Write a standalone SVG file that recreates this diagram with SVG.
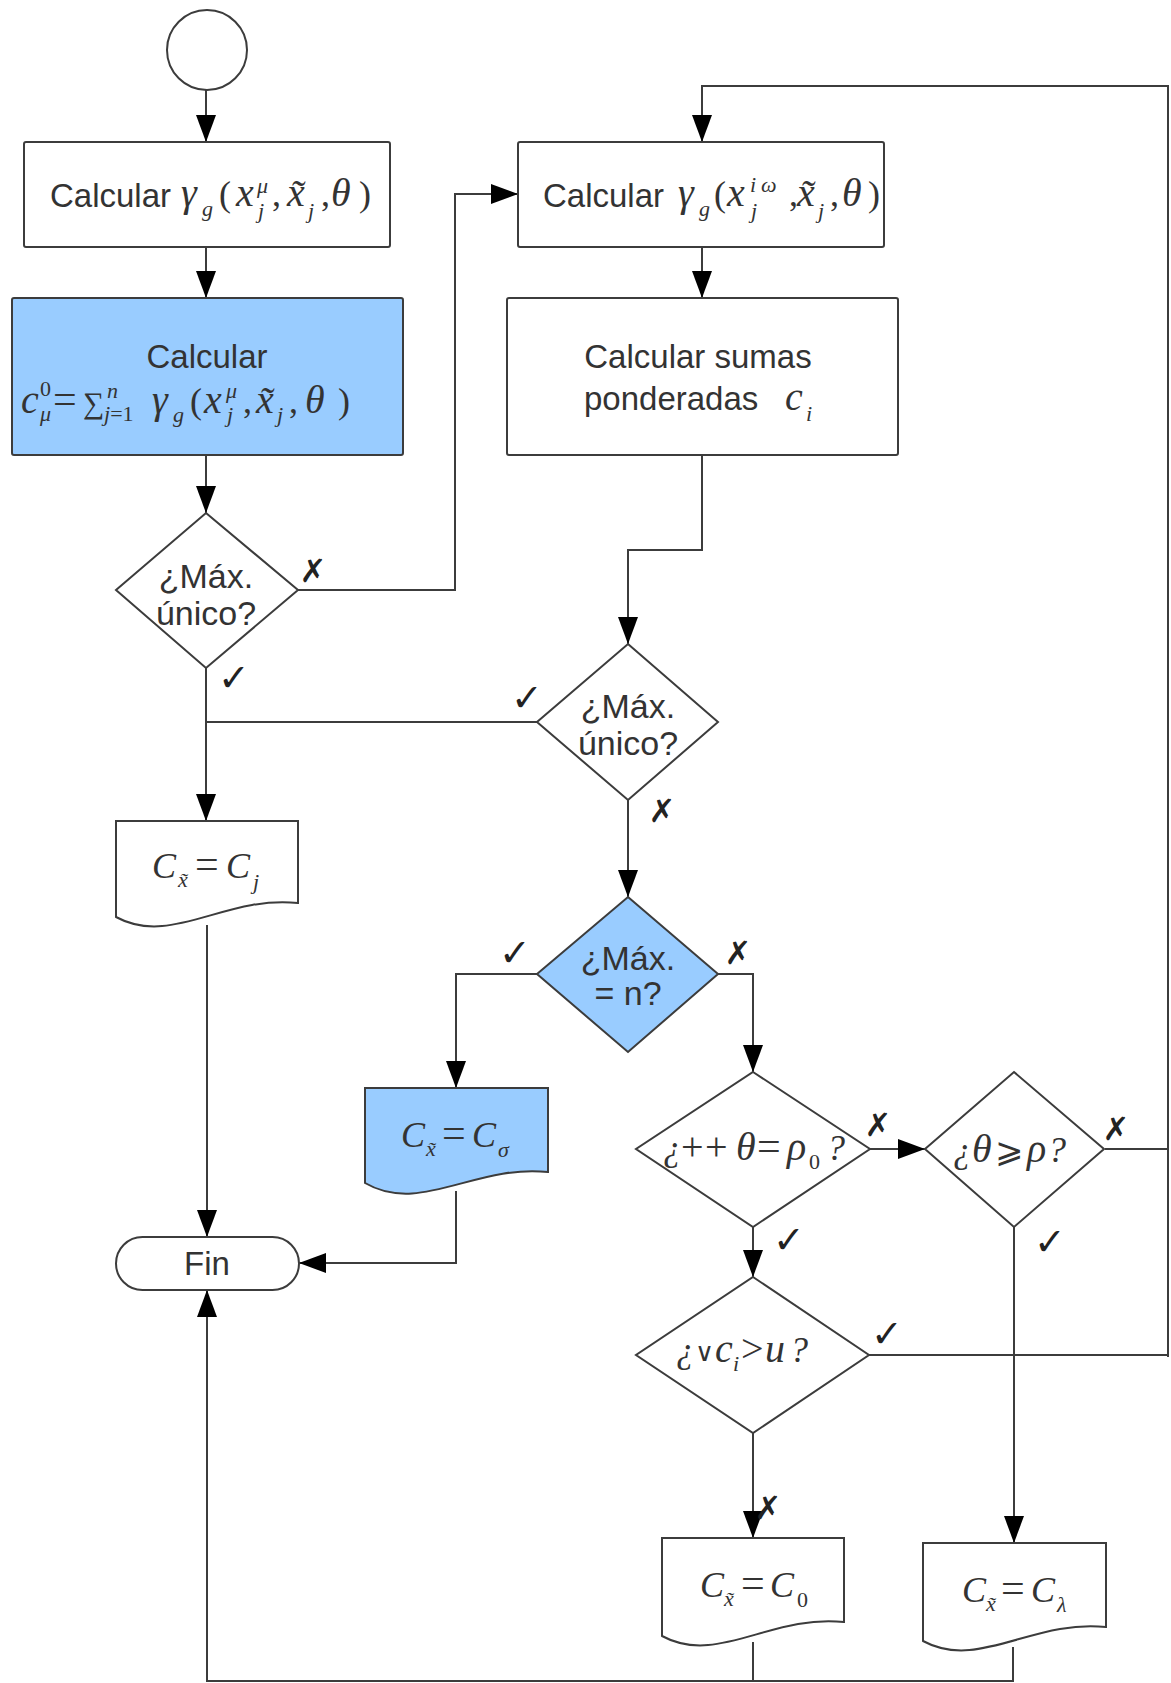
<svg xmlns="http://www.w3.org/2000/svg" width="1171" height="1683" viewBox="0 0 1171 1683">
<defs>
<marker id="arr" viewBox="0 0 27 20" refX="27" refY="10" markerWidth="27" markerHeight="20" markerUnits="userSpaceOnUse" orient="auto">
<path d="M0,0 L27,10 L0,20 z" fill="#000"/>
</marker>
<style>
.shape{fill:#fff;stroke:#3c3c3c;stroke-width:2}
.blue{fill:#99ccff}
.conn path{fill:none;stroke:#3c3c3c;stroke-width:2}
.arr{marker-end:url(#arr)}
.sans{font-family:"Liberation Sans","Arial",sans-serif;font-size:33px;fill:#333}
.dia{font-family:"Liberation Sans","Arial",sans-serif;font-size:34px;fill:#333;text-anchor:middle}
.m{font-family:"Liberation Serif","DejaVu Serif",serif;font-size:36px;font-style:italic;fill:#333}
.big{font-size:40px}
.n{font-style:normal}
.s{font-size:22px}
.eq{font-size:42px;font-style:normal}
.or{font-family:"DejaVu Sans",sans-serif;font-size:26px;font-style:normal}
.lab{font-family:"DejaVu Sans",sans-serif;font-size:32px;fill:#222;text-anchor:middle}
.ck{font-size:38px}
</style>
</defs>
<rect width="1171" height="1683" fill="#fff"/>

<g id="connectors" class="conn">
<path class="arr" d="M206,90 V142"/>
<path class="arr" d="M206,247 V298"/>
<path class="arr" d="M206,455 V513"/>
<path class="arr" d="M298,590 H455 V194 H518"/>
<path class="arr" d="M206,668 V821"/>
<path d="M537,722 H206"/>
<path class="arr" d="M1168,1357 V86 H702 V142"/>
<path d="M1105,1149 H1168"/>
<path d="M869,1355 H1168"/>
<path class="arr" d="M702,247 V298"/>
<path class="arr" d="M702,455 V550 H628 V644"/>
<path class="arr" d="M628,800 V897"/>
<path class="arr" d="M537,974 H456 V1088"/>
<path class="arr" d="M718,974 H753 V1072"/>
<path class="arr" d="M870,1149 H925"/>
<path class="arr" d="M753,1227 V1277"/>
<path class="arr" d="M1014,1227 V1543"/>
<path class="arr" d="M753,1433 V1538"/>
<path class="arr" d="M207,925 V1237"/>
<path class="arr" d="M456,1191 V1263 H299"/>
<path d="M753,1642 V1681"/>
<path class="arr" d="M1013,1647 V1681 H207 V1290"/>
</g>

<g id="start"><circle class="shape" cx="207" cy="50" r="40"/></g>

<g id="box1">
<rect class="shape" x="24" y="142" width="366" height="105" rx="2"/>
<text class="sans" x="50" y="207">Calcular</text>
<text class="m"><tspan class="big" x="181" y="206">γ</tspan><tspan class="s" x="202" y="216">g</tspan><tspan class="n" x="219" y="206">(</tspan><tspan class="big" x="236" y="206">x</tspan><tspan class="s" x="257" y="193">μ</tspan><tspan class="s" x="258" y="218">j</tspan><tspan class="n" x="272" y="206">,</tspan><tspan class="big" x="287" y="206">x̃</tspan><tspan class="s" x="308" y="218">j</tspan><tspan class="n" x="321" y="206">,</tspan><tspan class="big" x="331" y="206">θ</tspan><tspan class="n" x="359" y="206">)</tspan></text>
</g>

<g id="box2">
<rect class="shape blue" x="12" y="298" width="391" height="157" rx="2"/>
<text class="sans" x="207" y="368" text-anchor="middle">Calcular</text>
<text class="m"><tspan class="big" x="21" y="413">c</tspan><tspan class="s n" x="40" y="396">0</tspan><tspan class="s" x="40" y="421">μ</tspan><tspan class="eq" x="53" y="413">=</tspan><tspan class="n" x="83" y="413" font-size="30">∑</tspan><tspan class="s" x="107" y="398">n</tspan><tspan class="s" x="104" y="421">j<tspan class="n">=1</tspan></tspan><tspan class="big" x="152" y="413">γ</tspan><tspan class="s" x="173" y="422">g</tspan><tspan class="n" x="190" y="413">(</tspan><tspan class="big" x="204" y="413">x</tspan><tspan class="s" x="226" y="398">μ</tspan><tspan class="s" x="227" y="422">j</tspan><tspan class="n" x="243" y="413">,</tspan><tspan class="big" x="256" y="413">x̃</tspan><tspan class="s" x="277" y="422">j</tspan><tspan class="n" x="289" y="413">,</tspan><tspan class="big" x="305" y="413">θ</tspan><tspan class="n" x="338" y="413">)</tspan></text>
</g>

<g id="dec1">
<polygon class="shape" points="206,513 298,590 206,668 116,590"/>
<text class="dia" x="206" y="588">¿Máx.</text>
<text class="dia" x="206" y="625">único?</text>
</g>

<g id="box3">
<rect class="shape" x="518" y="142" width="366" height="105" rx="2"/>
<text class="sans" x="543" y="207">Calcular</text>
<text class="m"><tspan class="big" x="678" y="206">γ</tspan><tspan class="s" x="699" y="216">g</tspan><tspan class="n" x="714" y="206">(</tspan><tspan class="big" x="727" y="206">x</tspan><tspan class="s" x="750" y="192">i</tspan><tspan class="s" x="761" y="192">ω</tspan><tspan class="s" x="751" y="218">j</tspan><tspan class="n" x="789" y="206">,</tspan><tspan class="big" x="797" y="206">x̃</tspan><tspan class="s" x="818" y="218">j</tspan><tspan class="n" x="830" y="206">,</tspan><tspan class="big" x="842" y="206">θ</tspan><tspan class="n" x="868" y="206">)</tspan></text>
</g>

<g id="box4">
<rect class="shape" x="507" y="298" width="391" height="157" rx="2"/>
<text class="sans" x="698" y="368" text-anchor="middle">Calcular sumas</text>
<text class="sans" x="584" y="410">ponderadas</text>
<text class="m"><tspan class="big" x="785" y="410">c</tspan><tspan class="s" x="806" y="421">i</tspan></text>
</g>

<g id="dec2">
<polygon class="shape" points="628,644 718,722 628,800 537,722"/>
<text class="dia" x="628" y="718">¿Máx.</text>
<text class="dia" x="628" y="755">único?</text>
</g>

<g id="out_cj">
<path class="shape" d="M116,821 H298 V903 C225,895 171,947 116,917 Z"/>
<text class="m"><tspan x="152" y="878">C</tspan><tspan class="s" x="178" y="887">x̃</tspan><tspan class="eq" x="195" y="878">=</tspan><tspan x="226" y="878">C</tspan><tspan class="s" x="253" y="889">j</tspan></text>
</g>

<g id="dec3">
<polygon class="shape blue" points="628,897 718,974 628,1052 537,974"/>
<text class="dia" x="628" y="970">¿Máx.</text>
<text class="dia" x="628" y="1005">= n?</text>
</g>

<g id="out_csigma">
<path class="shape blue" d="M365,1088 H548 V1172 C475,1164 420,1215 365,1183 Z"/>
<text class="m"><tspan x="401" y="1147">C</tspan><tspan class="s" x="426" y="1156">x̃</tspan><tspan class="eq" x="442" y="1147">=</tspan><tspan x="472" y="1147">C</tspan><tspan class="s" x="498" y="1157">σ</tspan></text>
</g>

<g id="fin">
<rect class="shape" x="116" y="1237" width="183" height="53" rx="26.5"/>
<text class="sans" x="207" y="1275" text-anchor="middle" font-size="31">Fin</text>
</g>

<g id="dec4">
<polygon class="shape" points="753,1072 870,1149 753,1227 636,1149"/>
<text class="m"><tspan x="663" y="1160">¿</tspan><tspan class="n" x="681" y="1160" font-size="40">+</tspan><tspan class="n" x="705" y="1160" font-size="40">+</tspan><tspan class="big" x="736" y="1160">θ</tspan><tspan class="eq" x="757" y="1160">=</tspan><tspan class="big" x="787" y="1160">ρ</tspan><tspan class="s n" x="809" y="1169">0</tspan><tspan x="827" y="1160">?</tspan></text>
</g>

<g id="dec5">
<polygon class="shape" points="1014,1072 1104,1149 1014,1227 925,1149"/>
<text class="m"><tspan x="953" y="1162">¿</tspan><tspan class="big" x="972" y="1162">θ</tspan><tspan class="n" x="995" y="1162" font-size="34">⩾</tspan><tspan class="big" x="1027" y="1162">ρ</tspan><tspan x="1048" y="1162">?</tspan></text>
</g>

<g id="dec6">
<polygon class="shape" points="753,1277 869,1355 753,1433 636,1355"/>
<text class="m"><tspan x="676" y="1362">¿</tspan><tspan class="or" x="695" y="1361">∨</tspan><tspan class="big" x="715" y="1362">c</tspan><tspan class="s" x="733" y="1371">i</tspan><tspan class="n" x="741" y="1362" font-size="40">&gt;</tspan><tspan class="big" x="765" y="1362">u</tspan><tspan x="790" y="1362">?</tspan></text>
</g>

<g id="out_c0">
<path class="shape" d="M662,1538 H844 V1622 C771,1614 717,1666 662,1636 Z"/>
<text class="m"><tspan x="700" y="1597">C</tspan><tspan class="s" x="724" y="1606">x̃</tspan><tspan class="eq" x="741" y="1597">=</tspan><tspan x="770" y="1597">C</tspan><tspan class="s n" x="797" y="1607">0</tspan></text>
</g>

<g id="out_clambda">
<path class="shape" d="M923,1543 H1106 V1627 C1033,1619 978,1671 923,1641 Z"/>
<text class="m"><tspan x="962" y="1602">C</tspan><tspan class="s" x="986" y="1611">x̃</tspan><tspan class="eq" x="1001" y="1602">=</tspan><tspan x="1031" y="1602">C</tspan><tspan class="s" x="1057" y="1612">λ</tspan></text>
</g>

<g id="labels">
<text class="lab" x="313" y="582">✗</text>
<text class="lab ck" x="234" y="691">✓</text>
<text class="lab ck" x="527" y="711">✓</text>
<text class="lab" x="662" y="822">✗</text>
<text class="lab ck" x="515" y="966">✓</text>
<text class="lab" x="738" y="964">✗</text>
<text class="lab" x="878" y="1136">✗</text>
<text class="lab" x="1116" y="1140">✗</text>
<text class="lab ck" x="789" y="1253">✓</text>
<text class="lab ck" x="1050" y="1255">✓</text>
<text class="lab ck" x="887" y="1347">✓</text>
<text class="lab" x="768" y="1519">✗</text>
</g>
</svg>
